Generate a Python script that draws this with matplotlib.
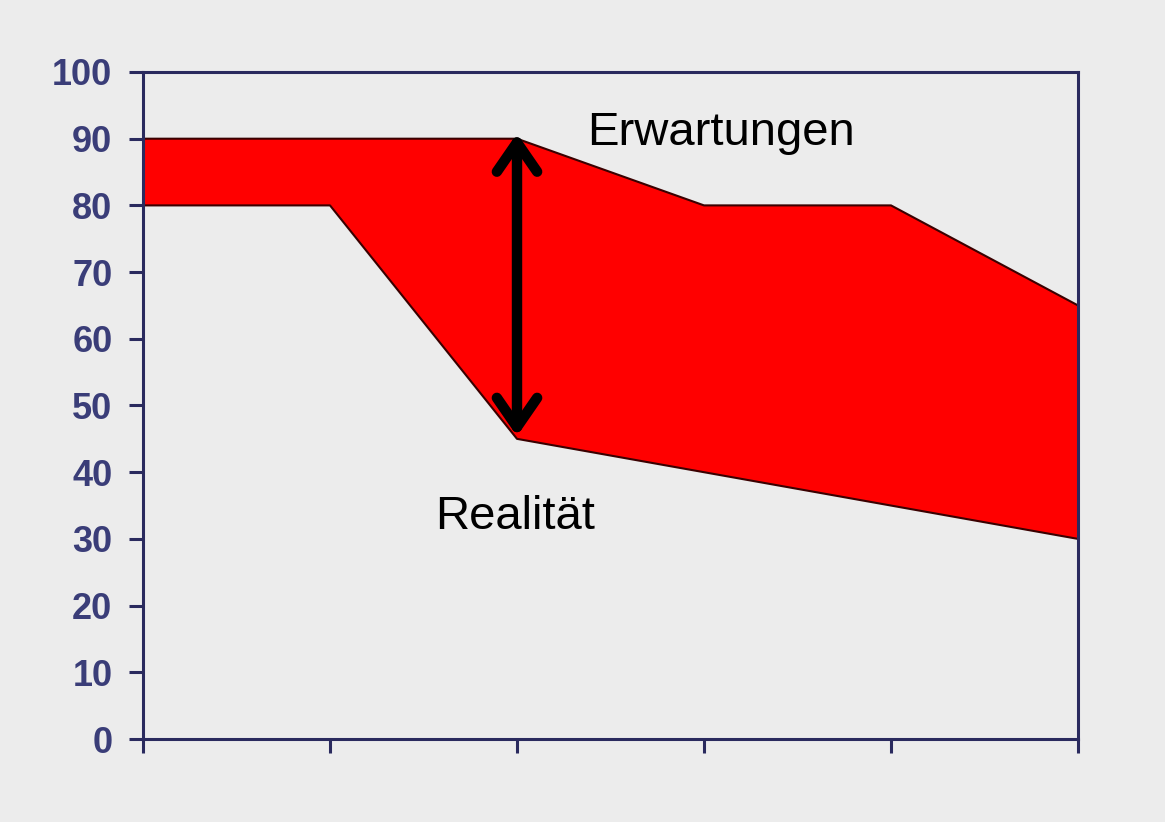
import matplotlib
matplotlib.use("Agg")
import matplotlib.pyplot as plt

x_positions = [0, 1, 2, 3, 4, 5]
erwartungen = [90, 90, 90, 80, 80, 65]
realitaet = [80, 80, 45, 40, 35, 30]
y_ticks = [0, 10, 20, 30, 40, 50, 60, 70, 80, 90, 100]

bg = "#ececec"
axis_col = "#2a2a5e"
label_col = "#3a3d78"

fig = plt.figure(figsize=(11.65, 8.22), dpi=100, facecolor=bg)
ax = fig.add_axes([143/1165, 1-739/822, (1078-143)/1165, (739-72)/822])
ax.set_facecolor(bg)

ax.fill_between(x_positions, realitaet, erwartungen, facecolor="#ff0000",
                edgecolor="none", zorder=2)
ax.plot(x_positions, erwartungen, color="#3a0000", lw=1.5, zorder=3)
ax.plot(x_positions, realitaet, color="#3a0000", lw=1.5, zorder=3)

ax.set_xlim(0, 5)
ax.set_ylim(0, 100)
ax.set_xticks(x_positions)
ax.set_xticklabels([])
ax.set_yticks(y_ticks)
ax.set_yticklabels([str(v) for v in y_ticks], fontfamily="Liberation Sans",
                   fontweight="bold", fontsize=26, color=label_col)
ax.tick_params(axis="y", direction="out", length=10, width=2.2, color=axis_col, pad=12)
ax.tick_params(axis="x", direction="out", length=10, width=2.2, color=axis_col)
for s in ax.spines.values():
    s.set_color(axis_col)
    s.set_linewidth(2.2)
    s.set_zorder(4)

ax.annotate("", xy=(2, 90.8), xytext=(2, 45.4),
            arrowprops=dict(arrowstyle="<->,head_length=2.1,head_width=1.45",
                            color="black", lw=7.5, shrinkA=0, shrinkB=0),
            zorder=5)

ax.text(2.374, 89.1, "Erwartungen", fontfamily="Liberation Sans", fontsize=34,
        color="black", ha="left", va="baseline", zorder=6)
ax.text(1.561, 31.5, "Realität", fontfamily="Liberation Sans", fontsize=34,
        color="black", ha="left", va="baseline", zorder=6)

fig.savefig("out.png", dpi=100, facecolor=bg)
